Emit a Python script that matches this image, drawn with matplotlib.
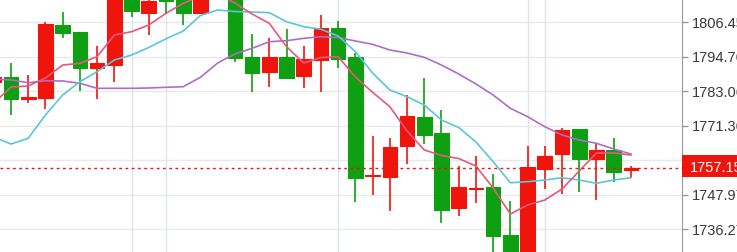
import matplotlib
matplotlib.use('Agg')
import matplotlib.pyplot as plt
from matplotlib.patches import Rectangle

##########
## Data ##
##########

# candles, index 0..37 (first one is cut by the left edge)
opens = [1786.21, 1788.01, 1780.45, 1780.68, 1805.53, 1803.06, 1790.96, 1791.97, 1818.08, 1809.70,
         1817.40, 1816.72, 1809.50, 1825.88, 1821.47, 1794.58, 1789.50, 1794.58, 1788.35, 1793.67,
         1804.62, 1794.58, 1754.24, 1754.00, 1764.61, 1774.34, 1768.92, 1743.49, 1749.93, 1750.61,
         1734.44, 1725.18, 1756.82, 1761.80, 1770.38, 1759.94, 1763.16, 1756.40]
highs = [1790.28, 1792.75, 1788.58, 1806.65, 1809.84, 1803.26, 1798.52, 1820.79, 1819.10, 1815.71,
         1818.08, 1819.10, 1820.79, 1829.27, 1822.49, 1802.38, 1801.23, 1804.08, 1798.52, 1808.92,
         1806.99, 1795.94, 1767.90, 1767.33, 1781.80, 1787.46, 1776.72, 1757.83, 1761.12, 1754.92,
         1745.76, 1764.61, 1764.61, 1770.72, 1770.38, 1765.19, 1767.39, 1757.60]
lows = [1783.50, 1775.02, 1779.09, 1776.95, 1801.23, 1783.26, 1780.45, 1786.31, 1808.15, 1802.14,
        1809.16, 1805.53, 1809.50, 1816.72, 1792.89, 1782.92, 1784.41, 1787.57, 1784.28, 1782.92,
        1791.06, 1745.63, 1747.90, 1742.58, 1758.31, 1765.19, 1738.51, 1740.88, 1745.29, 1726.54,
        1723.15, 1722.47, 1749.93, 1748.14, 1748.92, 1746.31, 1752.41, 1753.83]
closes = [1787.90, 1780.34, 1781.23, 1805.77, 1802.92, 1790.96, 1792.65, 1818.08, 1810.38, 1813.67,
          1813.67, 1809.70, 1817.40, 1820.79, 1794.45, 1789.36, 1794.58, 1787.57, 1793.91, 1804.62,
          1794.11, 1753.76, 1754.68, 1764.27, 1774.78, 1768.14, 1742.71, 1750.61, 1750.27, 1734.00,
          1725.18, 1757.29, 1761.22, 1769.94, 1760.21, 1762.99, 1755.70, 1757.15]

# moving averages
ma_fast = [1779.09, 1784.51, 1784.85, 1787.57, 1791.97, 1792.55, 1794.79, 1802.14, 1803.26, 1805.53,
           1809.50, 1812.89, 1815.37, 1816.04, 1812.99, 1809.26, 1806.11, 1798.18, 1792.65, 1794.52,
           1794.79, 1787.90, 1782.72, 1777.84, 1769.60, 1763.16, 1761.29, 1760.27, 1757.73, 1750.27,
           1741.46, 1744.51, 1746.20, 1749.93, 1756.04, 1762.14, 1762.14, 1761.46]
ma_mid = [1767.56, 1765.19, 1767.12, 1775.02, 1781.80, 1786.31, 1789.70, 1793.67, 1795.36, 1797.91,
          1800.86, 1803.50, 1808.76, 1810.62, 1810.11, 1809.94, 1809.70, 1806.65, 1804.96, 1804.08,
          1801.80, 1796.48, 1789.26, 1783.50, 1781.23, 1778.41, 1773.33, 1770.78, 1765.87, 1759.19,
          1752.07, 1752.41, 1752.98, 1753.76, 1752.98, 1751.87, 1752.98, 1753.76]
ma_slow = [1787.23, 1786.89, 1785.97, 1786.65, 1786.55, 1785.77, 1784.07, 1784.07, 1784.07, 1784.18,
           1784.41, 1784.62, 1787.80, 1792.65, 1795.70, 1797.63, 1799.87, 1800.21, 1801.03, 1801.57,
           1801.30, 1800.11, 1798.99, 1797.06, 1796.04, 1794.58, 1791.97, 1788.92, 1785.53, 1781.80,
           1777.29, 1774.45, 1771.06, 1768.24, 1766.55, 1765.43, 1763.49, 1761.80]

price_ticks = [1806.45, 1794.76, 1783.06, 1771.36, 1759.66, 1747.97, 1736.27]
day_lines = [8, 10, 20, 31, 32]   # vertical grid at these candles
last_price = 1757.15

##########
## Plot ##
##########

RED = '#f0150c'
GREEN = '#0e9f12'

plt.rcParams['font.family'] = ['Liberation Sans', 'DejaVu Sans']

fig = plt.figure(figsize=(7.37, 2.52), dpi=100)
ax = fig.add_axes([0, 0, 681.7 / 737, 1])

x = list(range(len(opens)))
cols = [RED if c >= o else GREEN for o, c in zip(opens, closes)]

# grid
for t in price_ticks:
    ax.axhline(t, color='#e9e9e9', lw=1, zorder=0)
for d in day_lines:
    ax.axvline(d, color='#dde5ee', lw=1, zorder=0)

# wicks + bodies
ax.vlines(x, lows, highs, colors=cols, lw=1.2, zorder=2)
ax.bar(x, [c - o for o, c in zip(opens, closes)], bottom=opens, width=0.85,
       color=cols, edgecolor=cols, lw=0.8, zorder=3)

# moving averages
ax.plot(x, ma_slow, color='#b06cc6', lw=1.2, zorder=4)
ax.plot(x, ma_mid, color='#5ac6d8', lw=1.2, zorder=4)
ax.plot(x, ma_fast, color='#e6587e', lw=1.2, zorder=4)

# last price line
ax.axhline(last_price, color=RED, lw=1, ls=(0, (2, 2.5)), zorder=5)

ax.set_xlim(0.36, 39.95)
ax.set_ylim(1728.58, 1814.01)

# right axis
for s in ['left', 'top', 'bottom']:
    ax.spines[s].set_visible(False)
ax.spines['right'].set_color('#9a9a9a')
ax.set_xticks([])
ax.yaxis.tick_right()
ax.set_yticks(price_ticks)
ax.set_yticklabels(['%.2f' % t for t in price_ticks])
ax.tick_params(axis='y', length=4, width=1, color='#9a9a9a', pad=3,
               labelsize=10.5, labelcolor='#3a3a3a')

# current price tag
tag_y0 = 1814.01 - 176.7 * 0.33903
tag_y1 = 1814.01 - 155.3 * 0.33903
ax.add_patch(Rectangle((1.0, tag_y0), 0.1, tag_y1 - tag_y0, transform=ax.get_yaxis_transform(),
                       facecolor=RED, edgecolor='none', clip_on=False, zorder=10))
ax.text(1.0 + 8.3 / 681.7, last_price, '%.2f' % last_price, transform=ax.get_yaxis_transform(),
        color='white', fontsize=10.5, va='center', ha='left', clip_on=False, zorder=11)

fig.savefig('out.png', dpi=100)
